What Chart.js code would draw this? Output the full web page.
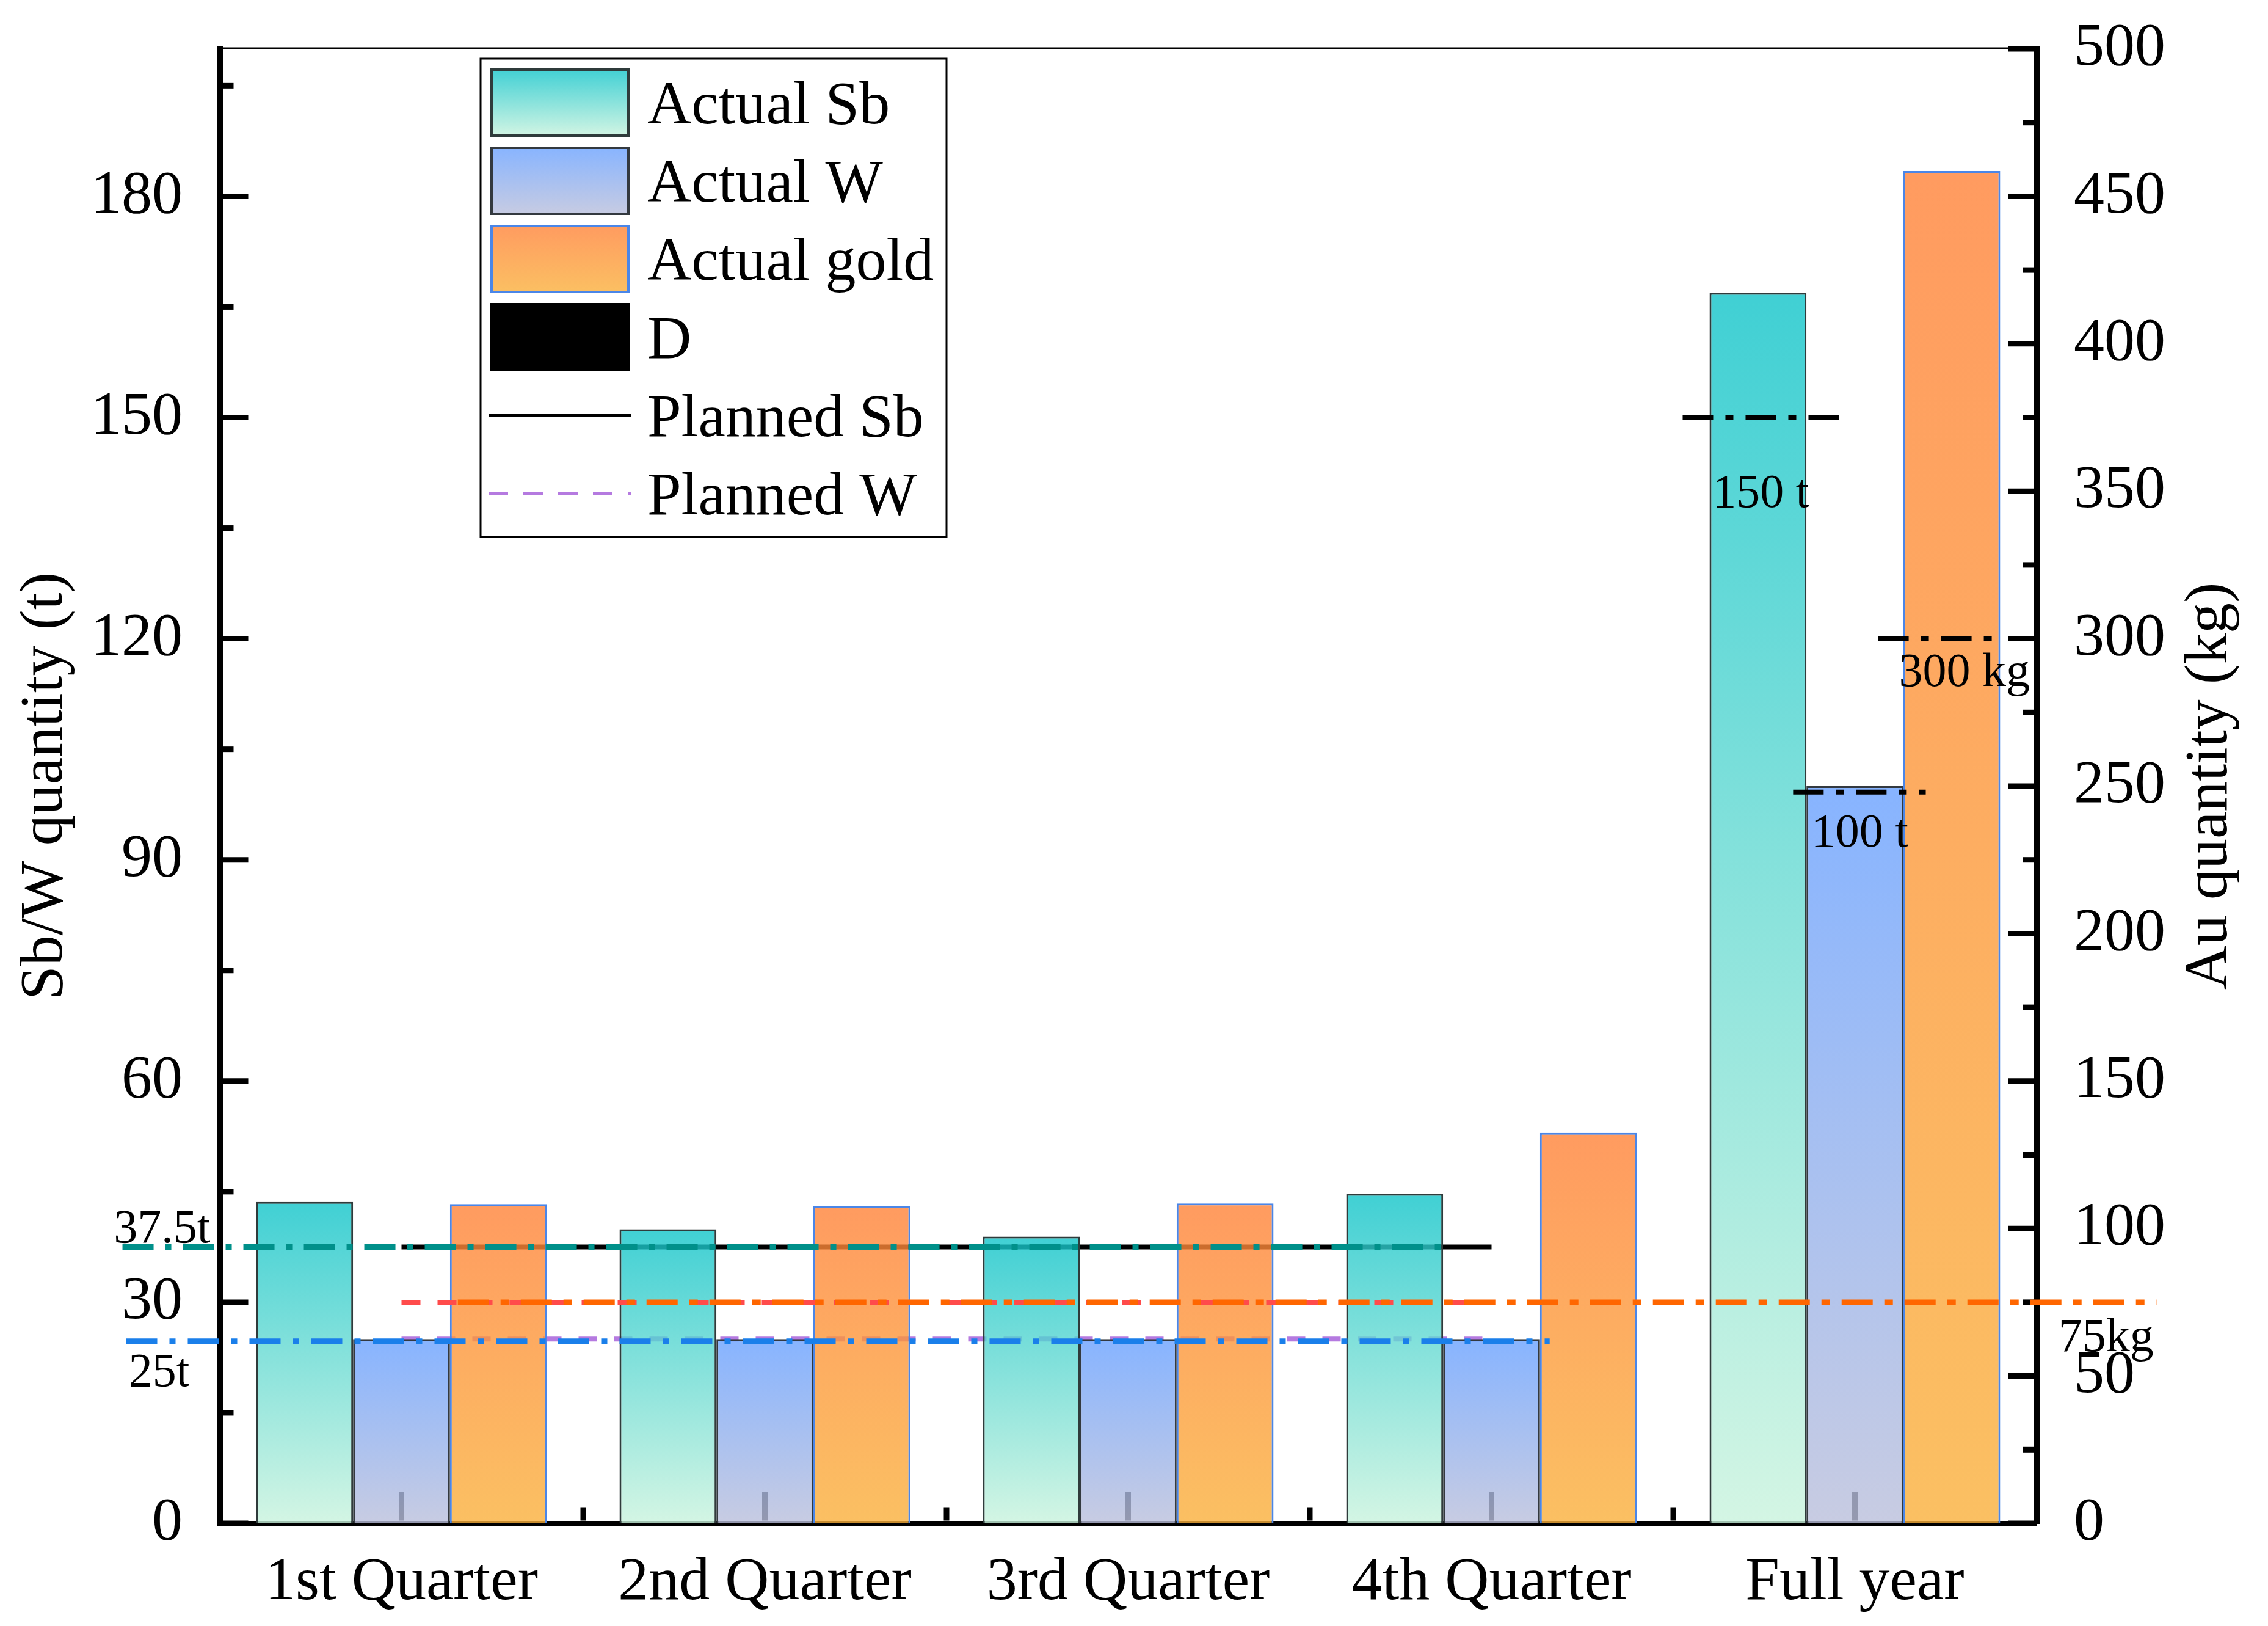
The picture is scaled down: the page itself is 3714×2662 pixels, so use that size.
<!DOCTYPE html>
<html>
<head>
<meta charset="utf-8">
<title>Actual vs planned Sb / W / Au output</title>
<script src="https://cdn.jsdelivr.net/npm/chart.js@4.4.1/dist/chart.umd.min.js"></script>
<style>
  html, body { margin: 0; padding: 0; background: #fff; overflow: hidden; }
  #wrap { width: 3714px; height: 2662px; position: relative; }
</style>
</head>
<body>
<div id="wrap"><canvas id="chart-output"></canvas></div>
<script>
// ── Data ─────────────────────────────────────────────────────────────────────
const categories = ['1st Quarter', '2nd Quarter', '3rd Quarter', '4th Quarter', 'Full year'];
const actualSb   = [43.6, 39.9, 38.9, 44.7, 166.9];    // t
const actualW    = [25.0, 25.0, 25.0, 25.0, 100.0];    // t
const actualGold = [108.3, 107.5, 108.5, 132.4, 458.6]; // kg

// quarterly and yearly targets
const plannedSb   = 37.5;  // t / quarter
const plannedW    = 25;    // t / quarter
const plannedWAlt = 24.7;  // the blue dash-dot marker sits slightly below 25
const plannedGold = 75;    // kg / quarter
const yearSb      = 150;   // t
const yearW       = 99.2;  // t (marker drawn just under the 100 t bar top)
const yearGold    = 300;   // kg

// axis ticks
const leftTicks  = [0, 30, 60, 90, 120, 150, 180];
const leftMinor  = [15, 45, 75, 105, 135, 165, 195];
const rightTicks = [0, 50, 100, 150, 200, 250, 300, 350, 400, 450, 500];
const rightMinor = [25, 75, 125, 175, 225, 275, 325, 375, 425, 475];

// text notes: [text, category position, value, axis]
const notes = [
  ['37.5t',  -0.792, 38.1,  'y'],
  ['25t',    -0.751, 18.6,  'y'],
  ['150 t',   3.608, 137.9, 'y'],
  ['100 t',   3.881, 91.8,  'y'],
  ['300 kg',  4.121, 284,   'y1'],
  ['75kg',    4.560, 58.4,  'y1'],
];

// ── Styling ──────────────────────────────────────────────────────────────────
const serif = "'Times New Roman', 'Liberation Serif', serif";
Chart.defaults.font.family = serif;
Chart.defaults.color = '#000';

const sbStops   = ['rgba(16,196,201,0.8)',  'rgba(201,243,221,0.8)'];
const wStops    = ['rgba(105,161,255,0.8)', 'rgba(186,191,219,0.8)'];
const goldStops = ['rgba(255,130,56,0.8)',  'rgba(250,176,59,0.8)'];

function vGradient(ctx, yTop, yBottom, stops) {
  const g = ctx.createLinearGradient(0, yTop, 0, yBottom);
  g.addColorStop(0, stops[0]);
  g.addColorStop(1, stops[1]);
  return g;
}

// each bar gets its own top→bottom gradient
function barFill(stops) {
  return c => {
    const scale = c.chart.scales[c.dataset.yAxisID];
    if (c.type !== 'data' || !scale) return stops[0];
    const top = scale.getPixelForValue(c.parsed.y);
    const base = scale.getPixelForValue(0);
    if (!Number.isFinite(top) || !Number.isFinite(base) || top === base) return stops[0];
    return vGradient(c.chart.ctx, top, base, stops);
  };
}

// one shared linear x axis (category i sits at x = i) so bars and guide lines line up
function guide(label, yAxisID, y, from, to, color, width, dash, order) {
  return {
    type: 'line', label, yAxisID,
    data: [{ x: from, y }, { x: to, y }],
    borderColor: color, borderWidth: width, borderDash: dash,
    borderCapStyle: 'butt', pointRadius: 0, fill: false, clip: false, order,
  };
}

function bars(label, values, yAxisID, stops, edge) {
  return {
    type: 'bar', label, yAxisID,
    data: values.map((v, i) => ({ x: i, y: v })),
    backgroundColor: barFill(stops), borderColor: edge, borderWidth: 3,
    categoryPercentage: 0.8, barPercentage: 1.0, order: 2,
  };
}

// Chart.js adds tick padding on top of the half label height; the frame here is fixed
const noScalePadding = s => { s.paddingTop = 0; s.paddingBottom = 0; s.paddingLeft = 0; s.paddingRight = 0; };

// ── Ticks, frame, notes, right title and legend ──────────────────────────────
const decor = {
  id: 'decor',
  beforeDatasetsDraw(chart) {
    const { ctx, chartArea: a, scales: { x, y, y1 } } = chart;
    const seg = (x0, y0, x1, y2) => { ctx.beginPath(); ctx.moveTo(x0, y0); ctx.lineTo(x1, y2); ctx.stroke(); };
    const lIn = a.left + 4.5, rIn = a.right - 4.5, bIn = a.bottom - 4.5;
    ctx.save();
    ctx.strokeStyle = '#000';
    ctx.lineWidth = 9;
    leftTicks.forEach(v => { const p = y.getPixelForValue(v); seg(lIn, p, lIn + 42, p); });
    leftMinor.forEach(v => { const p = y.getPixelForValue(v); seg(lIn, p, lIn + 18, p); });
    rightTicks.forEach(v => { const p = y1.getPixelForValue(v); seg(rIn, p, rIn - 42, p); });
    rightMinor.forEach(v => { const p = y1.getPixelForValue(v); seg(rIn, p, rIn - 18, p); });
    categories.forEach((_, i) => { const p = x.getPixelForTick(i); seg(p, bIn, p, bIn - 47); });
    categories.slice(1).forEach((_, i) => { const p = x.getPixelForValue(i + 0.5); seg(p, bIn, p, bIn - 22); });
    ctx.restore();
  },
  afterDraw(chart) {
    const { ctx, chartArea: a, scales } = chart;
    ctx.save();

    // thin top frame line
    ctx.strokeStyle = '#000';
    ctx.lineWidth = 3;
    ctx.beginPath(); ctx.moveTo(a.left - 4, a.top - 1); ctx.lineTo(a.right + 4, a.top - 1); ctx.stroke();

    // annotations
    ctx.fillStyle = '#000';
    ctx.font = `78px ${serif}`;
    ctx.textAlign = 'left';
    ctx.textBaseline = 'alphabetic';
    notes.forEach(([t, xv, yv, axis]) => {
      ctx.fillText(t, scales.x.getPixelForValue(xv), scales[axis].getPixelForValue(yv));
    });

    // right axis title, reading bottom to top
    ctx.save();
    ctx.translate(3620, (a.top + a.bottom) / 2);
    ctx.rotate(-Math.PI / 2);
    ctx.font = `100px ${serif}`;
    ctx.textAlign = 'center';
    ctx.textBaseline = 'middle';
    ctx.fillText('Au quantity (kg)', 0, 0);
    ctx.restore();

    // legend
    const lx = 787, ly = 96, lw = 763, lh = 783;
    ctx.fillStyle = '#fff';
    ctx.fillRect(lx, ly, lw, lh);
    ctx.strokeStyle = '#000';
    ctx.lineWidth = 3;
    ctx.strokeRect(lx, ly, lw, lh);

    const items = [
      { label: 'Actual Sb',   stops: sbStops,   edge: '#2f3b3b' },
      { label: 'Actual W',    stops: wStops,    edge: '#33393f' },
      { label: 'Actual gold', stops: goldStops, edge: '#4a86e8' },
      { label: 'D',           solid: '#000' },
      { label: 'Planned Sb',  line: '#000',    dash: [] },
      { label: 'Planned W',   line: '#b57ae0', dash: [32, 25] },
    ];
    const sx = 803, sw = 228, sh = 112, pitch = 128;
    items.forEach((it, i) => {
      const top = 112 + i * pitch;
      if (it.stops) {
        ctx.fillStyle = vGradient(ctx, top, top + sh, it.stops);
        ctx.fillRect(sx, top, sw, sh);
        ctx.strokeStyle = it.edge;
        ctx.lineWidth = 4;
        ctx.setLineDash([]);
        ctx.strokeRect(sx + 2, top + 2, sw - 4, sh - 4);
      } else if (it.solid) {
        ctx.fillStyle = it.solid;
        ctx.fillRect(sx, top, sw, sh);
      } else {
        ctx.strokeStyle = it.line;
        ctx.lineWidth = it.dash.length ? 5 : 4;
        ctx.setLineDash(it.dash);
        ctx.beginPath();
        ctx.moveTo(sx - 3, top + 56);
        ctx.lineTo(sx + sw + 3, top + 56);
        ctx.stroke();
        ctx.setLineDash([]);
      }
      ctx.fillStyle = '#000';
      ctx.font = `100px ${serif}`;
      ctx.textAlign = 'left';
      ctx.textBaseline = 'alphabetic';
      ctx.fillText(it.label, 1060, top + 90);
    });

    ctx.restore();
  },
};

// ── Chart ────────────────────────────────────────────────────────────────────
const axisBorder = { display: true, color: '#000', width: 9 };
const tickFont   = { size: 100 };

new Chart(document.getElementById('chart-output'), {
  type: 'bar',
  data: {
    datasets: [
      // dash-dot markers drawn above the bars
      guide('Year Sb',     'y',  yearSb,      3.526, 3.958, '#000',    8, [50, 20, 13, 20], 1),
      guide('Year W',      'y',  yearW,       3.830, 4.195, '#000',    8, [50, 20, 13, 20], 1),
      guide('Year gold',   'y1', yearGold,    4.064, 4.380, '#000',    8, [50, 20, 13, 20], 1),
      guide('Sb marker',   'y',  plannedSb,  -0.768, 2.870, '#00908a', 9, [51, 19, 10, 19], 1),
      guide('W marker',    'y',  plannedWAlt,-0.758, 3.160, '#1a7fea', 9, [51, 20, 10, 20], 1),
      guide('Gold marker', 'y1', plannedGold, 0.155, 4.830, '#ff6600', 9, [51, 19, 14, 19], 1),
      guide('Gold plan',   'y1', plannedGold, 0,     3,     '#ff4b4b', 8, [31, 28], 1),

      bars('Actual Sb',   actualSb,   'y',  sbStops,   '#2f3b3b'),
      bars('Actual W',    actualW,    'y',  wStops,    '#33393f'),
      bars('Actual gold', actualGold, 'y1', goldStops, '#4a86e8'),

      // planned lines sit underneath the bars
      guide('Planned Sb', 'y', plannedSb, 0, 3, '#000',    8, [],       3),
      guide('Planned W',  'y', plannedW,  0, 3, '#b57ae0', 8, [30, 28], 3),
    ],
  },
  options: {
    responsive: true,
    maintainAspectRatio: false,
    devicePixelRatio: 1,
    animation: false,
    events: [],
    layout: { padding: { top: 80, left: 0, right: 0, bottom: 0 } },
    plugins: {
      legend:  { display: false },
      tooltip: { enabled: false },
    },
    scales: {
      x: {
        type: 'linear', position: 'bottom', min: -0.5, max: 4.5, offset: false,
        grid: { display: false, offset: false },
        border: axisBorder,
        ticks: {
          font: tickFont, padding: 30, maxRotation: 0, autoSkip: false,
          callback: v => categories[v] ?? '',
        },
        afterBuildTicks: s => { s.ticks = categories.map((_, i) => ({ value: i })); },
        afterFit: s => { s.height = 168; noScalePadding(s); },
      },
      y: {
        type: 'linear', position: 'left', min: 0, max: 200,
        grid: { display: false },
        border: axisBorder,
        ticks: { font: tickFont, padding: 53 },
        afterBuildTicks: s => { s.ticks = leftTicks.map(v => ({ value: v })); },
        afterFit: s => { s.width = 360; noScalePadding(s); },
        title: { display: true, text: 'Sb/W quantity (t)', font: { size: 100 }, padding: { top: 15, bottom: 0 } },
      },
      y1: {
        type: 'linear', position: 'right', min: 0, max: 500,
        grid: { display: false },
        border: axisBorder,
        ticks: { font: tickFont, padding: 53 },
        afterBuildTicks: s => { s.ticks = rightTicks.map(v => ({ value: v })); },
        afterFit: s => { s.width = 379; noScalePadding(s); },
      },
    },
  },
  plugins: [decor],
});
</script>
</body>
</html>
